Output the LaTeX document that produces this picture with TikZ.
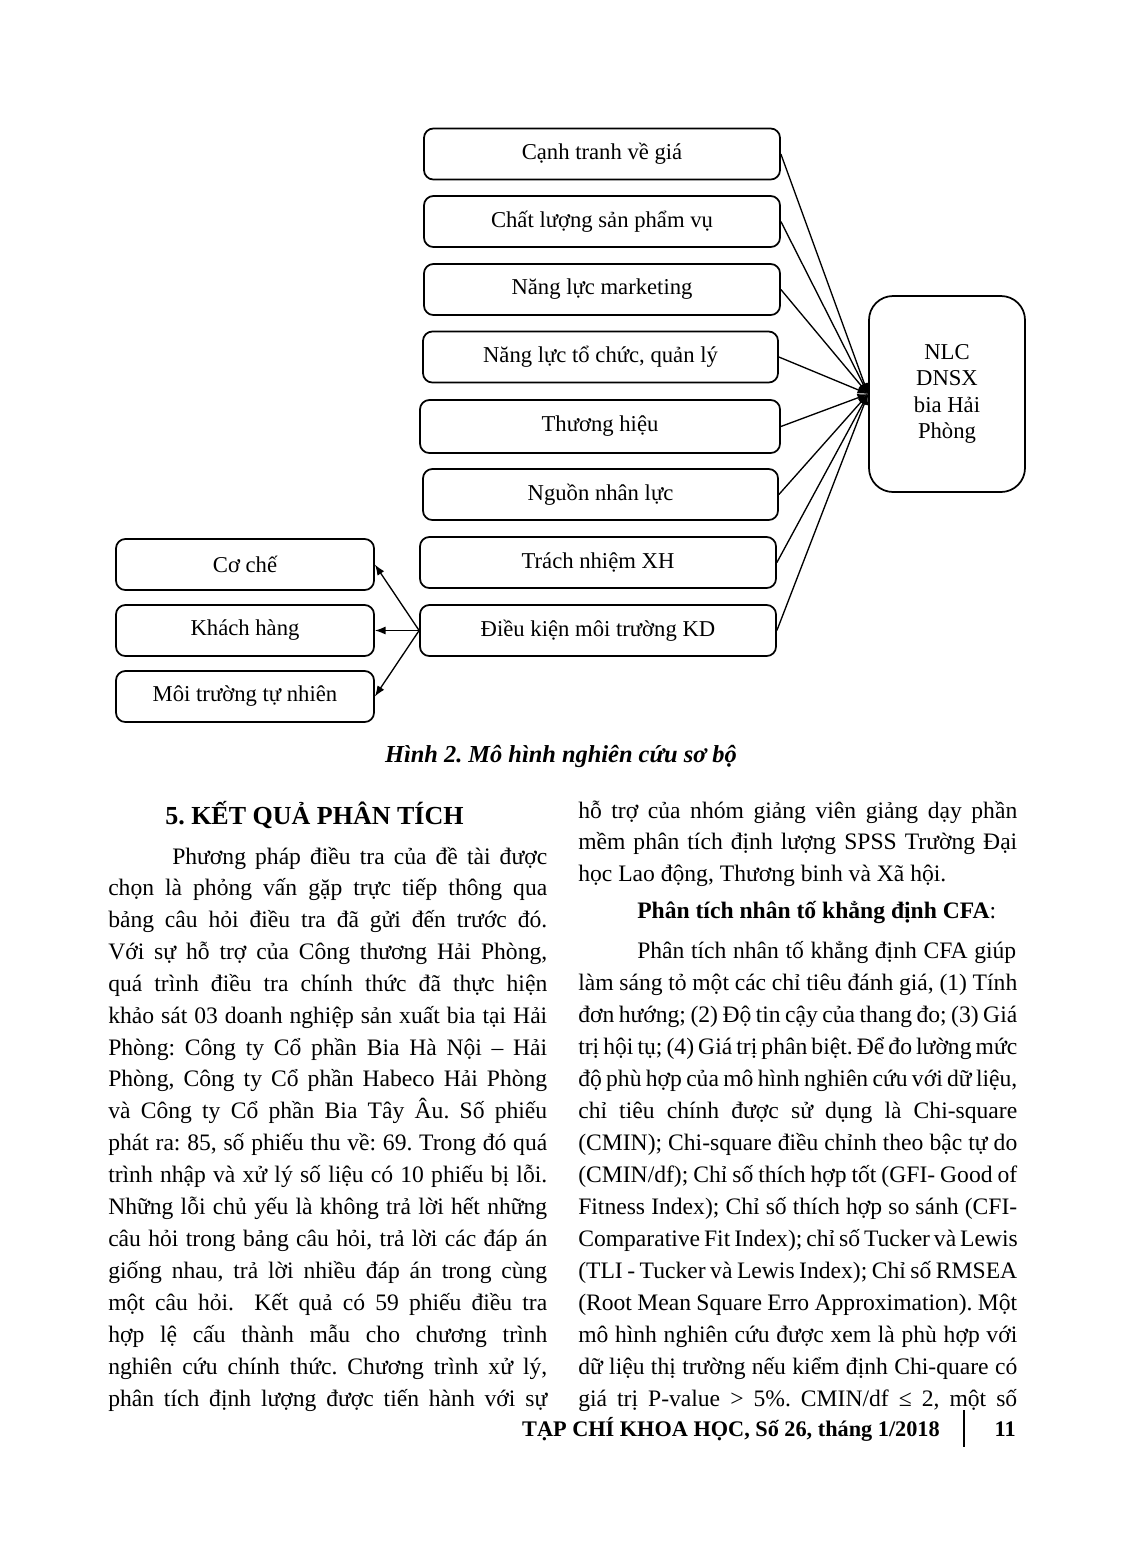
\documentclass[tikz,border=0pt]{standalone}
\usepackage{fontspec}
\setmainfont{Liberation Serif}
\usetikzlibrary{arrows.meta}
\newdimen\colw \colw=329.25pt
\newcommand\jl[2]{\hbox to #1{#2}}
\frenchspacing
\begin{document}
\begin{tikzpicture}[x=0.75pt,y=-0.75pt,
  fbox/.style={draw, line width=1.3pt, rounded corners=7pt, minimum width=#1, minimum height=38.25pt, inner sep=0pt, font=\fontsize{17}{20}\selectfont},
  bigbox/.style={draw, line width=1.3pt, rounded corners=18pt, minimum width=117pt, minimum height=147pt, inner sep=0pt, align=center, font=\fontsize{17}{19.7}\selectfont},
  conn/.style={line width=1pt, -{Latex[length=8pt,width=6pt]}},
  body/.style={anchor=base west, inner sep=0pt, font=\fontsize{17.7}{24}\selectfont}]
\useasboundingbox[fill=white] (0,0) rectangle (1122,1564);
% ---------- diagram ----------
\node[fbox=267pt] (b1) at (602,154) {Cạnh tranh về giá};
\node[fbox=267pt] (b2) at (602,221.5) {Chất lượng sản phẩm vụ};
\node[fbox=267pt] (b3) at (602,289.5) {Năng lực marketing};
\node[fbox=266.25pt] (b4) at (600.5,357) {Năng lực tổ chức, quản lý};
\node[fbox=270pt, minimum height=39.75pt] (b5) at (600,426.5) {Thương hiệu};
\node[fbox=266.25pt] (b6) at (600.5,494.5) {Nguồn nhân lực};
\node[fbox=267pt] (b7) at (598,562.5) {Trách nhiệm XH};
\node[fbox=267pt] (b8) at (598,630.5) {Điều kiện môi trường KD};
\node[fbox=193.5pt] (c1) at (245,564.5) {Cơ chế};
\node[fbox=193.5pt] (c2) at (245,630.5) {Khách hàng};
\node[fbox=193.5pt] (c3) at (245,696.5) {Môi trường tự nhiên};
\node[bigbox] (nlc) at (947,394) {NLC\\DNSX\\bia Hải\\Phòng};
\foreach \b in {b1,b2,b3,b4,b5,b6,b7,b8}
  \draw[conn] (\b.east) -- (nlc.west);
\draw[conn] (b8.west) -- (c1.east);
\draw[conn] (b8.west) -- (c2.east);
\draw[conn] (b8.west) -- (c3.east);
% ---------- caption ----------
\node[anchor=base, inner sep=0pt, font=\fontsize{18.3}{22}\selectfont\bfseries\itshape] (cap) at (561,762) {Hình 2. Mô hình nghiên cứu sơ bộ};
% ---------- left column ----------
\node[body, font=\fontsize{19.5}{24}\selectfont\bfseries] (h1) at (165,824) {5. KẾT QUẢ PHÂN TÍCH};
\node[body] (l1) at (172,864) {\jl{281.25pt}{Phương pháp điều tra của đề tài được}};
\node[body] (l2) at (108,895) {\jl{\colw}{chọn là phỏng vấn gặp trực tiếp thông qua}};
\node[body] (l3) at (108,927) {\jl{\colw}{bảng câu hỏi điều tra đã gửi đến trước đó.}};
\node[body] (l4) at (108,959) {\jl{\colw}{Với sự hỗ trợ của Công thương Hải Phòng,}};
\node[body] (l5) at (108,991) {\jl{\colw}{quá trình điều tra chính thức đã thực hiện}};
\node[body] (l6) at (108,1023) {\jl{\colw}{khảo sát 03 doanh nghiệp sản xuất bia tại Hải}};
\node[body] (l7) at (108,1055) {\jl{\colw}{Phòng: Công ty Cổ phần Bia Hà Nội – Hải}};
\node[body] (l8) at (108,1086) {\jl{\colw}{Phòng, Công ty Cổ phần Habeco Hải Phòng}};
\node[body] (l9) at (108,1118) {\jl{\colw}{và Công ty Cổ phần Bia Tây Âu. Số phiếu}};
\node[body] (l10) at (108,1150) {\jl{\colw}{phát ra: 85, số phiếu thu về: 69. Trong đó quá}};
\node[body] (l11) at (108,1182) {\jl{\colw}{trình nhập và xử lý số liệu có 10 phiếu bị lỗi.}};
\node[body] (l12) at (108,1214) {\jl{\colw}{Những lỗi chủ yếu là không trả lời hết những}};
\node[body] (l13) at (108,1246) {\jl{\colw}{câu hỏi trong bảng câu hỏi, trả lời các đáp án}};
\node[body] (l14) at (108,1278) {\jl{\colw}{giống nhau, trả lời nhiều đáp án trong cùng}};
\node[body] (l15) at (108,1310) {\jl{\colw}{một câu hỏi. \ Kết quả có 59 phiếu điều tra}};
\node[body] (l16) at (108,1342) {\jl{\colw}{hợp lệ cấu thành mẫu cho chương trình}};
\node[body] (l17) at (108,1374) {\jl{\colw}{nghiên cứu chính thức. Chương trình xử lý,}};
\node[body] (l18) at (108,1406) {\jl{\colw}{phân tích định lượng được tiến hành với sự}};
% ---------- right column ----------
\node[body] (r1) at (578,818) {\jl{\colw}{hỗ trợ của nhóm giảng viên giảng dạy phần}};
\node[body] (r2) at (578,849) {\jl{\colw}{mềm phân tích định lượng SPSS Trường Đại}};
\node[body] (r3) at (578,881) {học Lao động, Thương binh và Xã hội.};
\node[body] (r4) at (637,918) {\textbf{Phân tích nhân tố khẳng định CFA}:};
\node[body] (r5) at (637,958) {\jl{284.25pt}{Phân tích nhân tố khẳng định CFA giúp}};
\node[body] (r6) at (578,990) {\jl{\colw}{làm sáng tỏ một các chỉ tiêu đánh giá, (1) Tính}};
\node[body] (r7) at (578,1022) {\jl{\colw}{đơn hướng; (2) Độ tin cậy của thang đo; (3) Giá}};
\node[body] (r8) at (578,1054) {\jl{\colw}{trị hội tụ; (4) Giá trị phân biệt. Để đo lường mức}};
\node[body] (r9) at (578,1086) {\jl{\colw}{độ phù hợp của mô hình nghiên cứu với dữ liệu,}};
\node[body] (r10) at (578,1118) {\jl{\colw}{chỉ tiêu chính được sử dụng là Chi-square}};
\node[body] (r11) at (578,1150) {\jl{\colw}{(CMIN); Chi-square điều chỉnh theo bậc tự do}};
\node[body] (r12) at (578,1182) {\jl{\colw}{(CMIN/df); Chỉ số thích hợp tốt (GFI- Good of}};
\node[body] (r13) at (578,1214) {\jl{\colw}{Fitness Index); Chỉ số thích hợp so sánh (CFI-}};
\node[body] (r14) at (578,1246) {\jl{\colw}{Comparative Fit Index); chỉ số Tucker và Lewis}};
\node[body] (r15) at (578,1278) {\jl{\colw}{(TLI - Tucker và Lewis Index); Chỉ số RMSEA}};
\node[body] (r16) at (578,1310) {\jl{\colw}{(Root Mean Square Erro Approximation). Một}};
\node[body] (r17) at (578,1342) {\jl{\colw}{mô hình nghiên cứu được xem là phù hợp với}};
\node[body] (r18) at (578,1374) {\jl{\colw}{dữ liệu thị trường nếu kiểm định Chi-quare có}};
\node[body] (r19) at (578,1406) {\jl{\colw}{giá trị P-value > 5\%. CMIN/df ≤ 2, một số}};
% ---------- footer ----------
\node[anchor=base east, inner sep=0pt, font=\fontsize{16.7}{20}\selectfont\bfseries] (ft) at (940,1436) {TẠP CHÍ KHOA HỌC, Số 26, tháng 1/2018};
\node[anchor=base east, inner sep=0pt, font=\fontsize{16.7}{20}\selectfont\bfseries] (pg) at (1016,1436) {11};
\draw[line width=1.4pt] (964,1410) -- (964,1447);
\end{tikzpicture}
\end{document}
